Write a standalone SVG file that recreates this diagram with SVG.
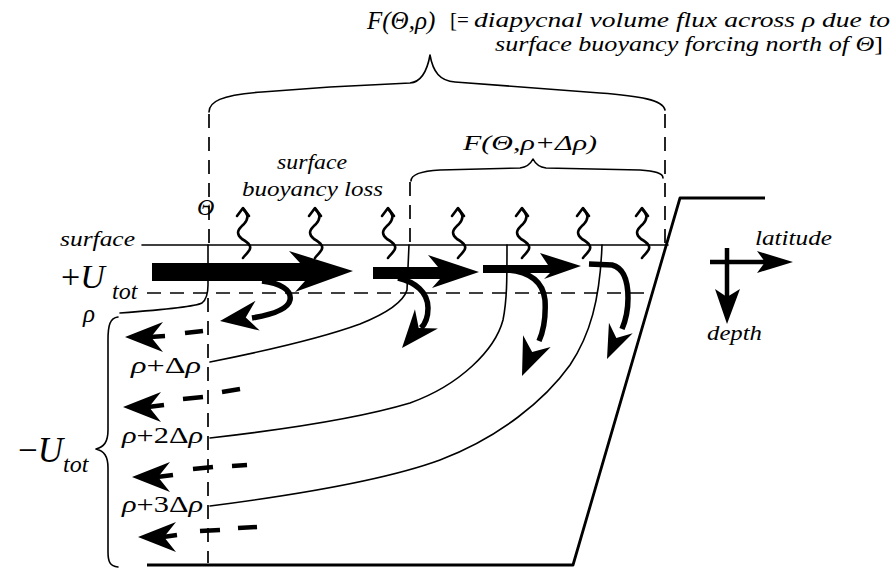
<svg xmlns="http://www.w3.org/2000/svg" xmlns:xlink="http://www.w3.org/1999/xlink" width="896" height="571" viewBox="0 0 896 571">
<style>
  text { font-family: "Liberation Serif", "Times New Roman", "DejaVu Serif", serif; fill: #000; }
  .i { font-style: italic; }
  .thin { fill: none; stroke: #000; stroke-width: 1.6; stroke-linecap: round; stroke-linejoin: round; }
  .med { fill: none; stroke: #000; stroke-width: 2.8; stroke-linejoin: round; }
  .dash { fill: none; stroke: #000; stroke-width: 1.7; stroke-dasharray: 14 9; }
  .hook { fill: none; stroke: #000; stroke-width: 5.5; stroke-linecap: butt; stroke-linejoin: round; }
  .bar { fill: none; stroke: #000; stroke-width: 4.5; stroke-linecap: butt; }
  .wig { fill: none; stroke: #000; stroke-width: 2.6; stroke-linecap: round; stroke-linejoin: round; }
</style>
<defs>
  <path id="ah" d="M0,0 L-38,-15 L-26,0 L-38,15 Z" fill="#000"/>
  <path id="ahs" d="M0,0 L-34,-13 L-23,0 L-34,13 Z" fill="#000"/>
  <g id="wiggle">
    <path class="wig" d="M0,2 C4,6 7,10 1,17 C-6,23 -7,27 -1,32 C6,36 10,40 5,45 C3,48 1,49 0,51"/>
    <path class="wig" d="M-6,9 L0,1 L6,9"/>
  </g>
</defs>

<g id="top-label">
  <text class="i" x="367" y="29" font-size="25">F(Θ,ρ)</text>
  <text x="450" y="27" font-size="21">[= <tspan class="i" textLength="416" lengthAdjust="spacingAndGlyphs">diapycnal volume flux across ρ due to</tspan></text>
  <text class="i" x="495" y="51" font-size="21" textLength="388" lengthAdjust="spacingAndGlyphs">surface buoyancy forcing north of Θ<tspan font-style="normal">]</tspan></text>
  <path class="thin" d="M209,112 C209,102 220,95 262,92 L330,87 L410,83 C421,82 427,72 430,55 C433,72 440,81 455,82 L600,93 C640,96 663,100 665,110"/>
</g>

<g id="inner-label">
  <text class="i" x="463" y="150" font-size="22" textLength="134" lengthAdjust="spacingAndGlyphs">F(Θ,ρ+Δρ)</text>
  <path class="thin" d="M411,181 C411,174 422,171 440,170 L520,168 C528,167 531,163 533,159 C535,163 538,167 546,168 L640,170 C655,171 663,173 663,178"/>
</g>

<g id="boundaries">
  <line class="dash" x1="209" y1="114" x2="209" y2="244"/>
  <line class="dash" x1="665" y1="114" x2="665" y2="244"/>
  <line class="dash" x1="410" y1="182" x2="410" y2="244"/>
  <line class="dash" x1="208" y1="298" x2="208" y2="563" stroke-dasharray="15 8"/>
  <line class="dash" x1="147" y1="293" x2="650" y2="293" stroke-dasharray="17 13"/>
</g>

<g id="surface-labels">
  <text class="i" x="277" y="169" font-size="20" textLength="70" lengthAdjust="spacingAndGlyphs">surface</text>
  <text class="i" x="242" y="196" font-size="20" textLength="141" lengthAdjust="spacingAndGlyphs">buoyancy loss</text>
  <text class="i" x="197" y="215" font-size="24">Θ</text>
  <text class="i" x="60" y="246" font-size="20" textLength="75" lengthAdjust="spacingAndGlyphs">surface</text>
</g>

<g id="basin">
  <line class="thin" x1="142" y1="245" x2="668" y2="245"/>
  <path class="med" d="M147,565 L573,565 L680,198 L765,198"/>
</g>

<g id="isopycnals">
  <path class="thin" d="M120,313 C160,310 195,307 202,303 C207,299 208,292 208,285 L208,245"/>
  <path class="thin" d="M210,362 C270,350 330,335 360,324 C385,314 403,303 407,290 L409,245"/>
  <path class="thin" d="M210,438 C280,430 360,418 410,403 C460,385 495,350 503,320 C507,300 507,280 507,245"/>
  <path class="thin" d="M210,506 C280,497 380,482 440,460 C500,437 545,400 570,365 C590,335 600,300 602,245"/>
  <text class="i" x="83" y="322" font-size="25">ρ</text>
  <text x="131" y="373" font-size="23" textLength="70" lengthAdjust="spacingAndGlyphs"><tspan class="i">ρ</tspan>+Δ<tspan class="i">ρ</tspan></text>
  <text x="122" y="443" font-size="23" textLength="81" lengthAdjust="spacingAndGlyphs"><tspan class="i">ρ</tspan>+2Δ<tspan class="i">ρ</tspan></text>
  <text x="122" y="512" font-size="23" textLength="81" lengthAdjust="spacingAndGlyphs"><tspan class="i">ρ</tspan>+3Δ<tspan class="i">ρ</tspan></text>
</g>

<g id="transport-labels">
  <text x="61" y="288" font-size="34">+<tspan class="i">U</tspan></text>
  <text class="i" x="112" y="299" font-size="24">tot</text>
  <text x="18" y="462" font-size="35">−<tspan class="i">U</tspan></text>
  <text class="i" x="63" y="472" font-size="24">tot</text>
  <path class="thin" d="M118,317 C110,318 108,325 108,340 L108,430 C108,442 104,447 96,449 C104,451 108,456 108,468 L108,552 C108,562 110,566 118,567"/>
</g>

<g id="connectors">
  <path d="M152,263 L300,263 L289,251 L353,271 L295,292 L305,281 L152,281 Z" fill="#000"/>
  <path d="M373,267 L438,267 L428,255 L479,272 L432,288 L440,279 L373,279 Z" fill="#000"/>
  <path d="M483,265 L548,265 L540,253 L581,266 L544,279 L550,273 L483,273 Z" fill="#000"/>
  <path class="hook" d="M262,281 C280,283 292,290 290,300 C288,310 270,315 252,318"/>
  <use xlink:href="#ah" href="#ah" transform="translate(220,321) rotate(172)"/>
  <path class="hook" d="M398,278 C415,282 428,292 428,308 C428,318 425,324 421,328"/>
  <use xlink:href="#ah" href="#ah" transform="translate(402,348) rotate(130)"/>
  <path class="hook" d="M508,270 C530,272 543,282 545,300 C546,318 543,332 539,341"/>
  <use xlink:href="#ah" href="#ah" transform="translate(522,376) rotate(113)"/>
  <path class="hook" stroke-width="5" d="M589,264 L612,265 C624,268 628,282 628,298 C628,312 625,322 622,329"/>
  <use xlink:href="#ahs" href="#ahs" transform="translate(607,359) rotate(114)"/>
  <use xlink:href="#ah" href="#ah" transform="translate(125,337) rotate(180)"/>
  <line class="bar" x1="150" y1="337" x2="165" y2="336"/>
  <line class="bar" x1="185" y1="333" x2="203" y2="331"/>
  <use xlink:href="#ah" href="#ah" transform="translate(123,407) rotate(180)"/>
  <line class="bar" x1="148" y1="407" x2="164" y2="405"/>
  <line class="bar" x1="183" y1="399" x2="203" y2="397"/>
  <line class="bar" x1="222" y1="392" x2="240" y2="389"/>
  <use xlink:href="#ah" href="#ah" transform="translate(132,477) rotate(180)"/>
  <line class="bar" x1="157" y1="477" x2="173" y2="475"/>
  <line class="bar" x1="193" y1="469" x2="213" y2="467"/>
  <line class="bar" x1="232" y1="466" x2="247" y2="465"/>
  <use xlink:href="#ah" href="#ah" transform="translate(138,537) rotate(180)"/>
  <line class="bar" x1="163" y1="537" x2="177" y2="535"/>
  <line class="bar" x1="200" y1="531" x2="220" y2="530"/>
  <line class="bar" x1="238" y1="528" x2="257" y2="527"/>
  <use xlink:href="#wiggle" href="#wiggle" transform="translate(243,207)"/>
  <use xlink:href="#wiggle" href="#wiggle" transform="translate(315,207)"/>
  <use xlink:href="#wiggle" href="#wiggle" transform="translate(388,207)"/>
  <use xlink:href="#wiggle" href="#wiggle" transform="translate(458,207)"/>
  <use xlink:href="#wiggle" href="#wiggle" transform="translate(522,207)"/>
  <use xlink:href="#wiggle" href="#wiggle" transform="translate(583,207)"/>
  <use xlink:href="#wiggle" href="#wiggle" transform="translate(642,207)"/>
</g>

<g id="axes">
  <line class="bar" x1="710" y1="262" x2="766" y2="262" stroke-width="4"/>
  <path d="M793,262 L757,251 L765,262 L757,273 Z" fill="#000"/>
  <line class="bar" x1="727" y1="248" x2="727" y2="298" stroke-width="4"/>
  <path d="M727,324 L715,289 L727,297 L740,289 Z" fill="#000"/>
  <text class="i" x="755" y="245" font-size="21" textLength="77" lengthAdjust="spacingAndGlyphs">latitude</text>
  <text class="i" x="707" y="340" font-size="21" textLength="55" lengthAdjust="spacingAndGlyphs">depth</text>
</g>
</svg>
